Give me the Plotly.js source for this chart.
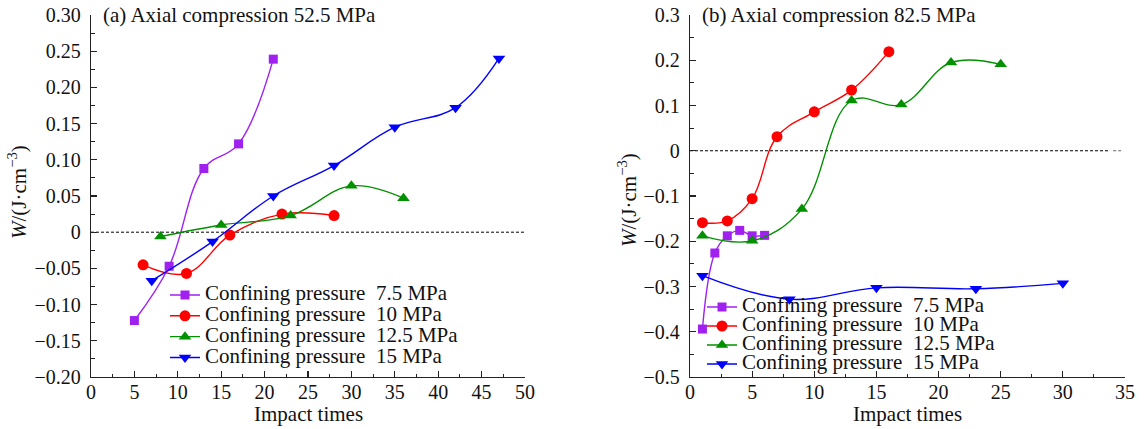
<!DOCTYPE html>
<html><head><meta charset="utf-8">
<script src="https://cdn.plot.ly/plotly-3.0.1.min.js"></script>
<style>html,body{margin:0;padding:0;background:#fff}#chart{width:1147px;height:429px}</style>
</head><body><div id="chart"></div>
<script>
// ---- data ----
const seriesNames = ['Confining pressure \u00a07.5 MPa', 'Confining pressure \u00a010 MPa', 'Confining pressure \u00a012.5 MPa', 'Confining pressure \u00a015 MPa'];
const panelTitles = ['(a) Axial compression 52.5 MPa', '(b) Axial compression 82.5 MPa'];
const xTitle = 'Impact times';
const yTitle = '<i>W</i>/(J·cm<sup>−3</sup>)';

// panel (a)
const a_x_75 = [5, 9, 13, 17, 21];
const a_y_75 = [-0.122, -0.047, 0.088, 0.122, 0.239];
const a_x_10 = [6, 11, 16, 22, 28];
const a_y_10 = [-0.045, -0.057, -0.004, 0.025, 0.023];
const a_x_125 = [8, 15, 23, 30, 36];
const a_y_125 = [-0.006, 0.010, 0.023, 0.064, 0.047];
const a_x_15 = [7, 14, 21, 28, 35, 42, 47];
const a_y_15 = [-0.067, -0.013, 0.050, 0.092, 0.145, 0.172, 0.240];

// panel (b)
const b_x_75 = [1, 2, 3, 4, 5, 6];
const b_y_75 = [-0.394, -0.226, -0.188, -0.176, -0.188, -0.187];
const b_x_10 = [1, 3, 5, 7, 10, 13, 16];
const b_y_10 = [-0.159, -0.155, -0.106, 0.031, 0.086, 0.134, 0.219];
const b_x_125 = [1, 5, 9, 13, 17, 21, 25];
const b_y_125 = [-0.188, -0.199, -0.129, 0.111, 0.102, 0.195, 0.191];
const b_x_15 = [1, 8, 15, 23, 30];
const b_y_15 = [-0.276, -0.328, -0.303, -0.305, -0.293];

// tick labels
const a_xticks = [0, 5, 10, 15, 20, 25, 30, 35, 40, 45, 50];
const a_yticks = [-0.20, -0.15, -0.10, -0.05, 0, 0.05, 0.10, 0.15, 0.20, 0.25, 0.30];
const a_ytext = ['−0.20', '−0.15', '−0.10', '−0.05', '0', '0.05', '0.10', '0.15', '0.20', '0.25', '0.30'];
const b_xticks = [0, 5, 10, 15, 20, 25, 30, 35];
const b_yticks = [-0.5, -0.4, -0.3, -0.2, -0.1, 0, 0.1, 0.2, 0.3];
const b_ytext = ['−0.5', '−0.4', '−0.3', '−0.2', '−0.1', '0', '0.1', '0.2', '0.3'];

// reference (zero) lines
const a_zero_x = [0, 50];
const b_zero_x = [0, 33.8];
const b_zero_x_tail = [34.05, 34.85];
const zero_y = [0, 0];

// ---- styling ----
const FONT = 'Liberation Serif';
const colors = ['#A020F0', '#FF0000', '#009000', '#0000FF'];
const symbols = ['square', 'circle', 'triangle-up', 'triangle-down'];
const msizes = [9, 11, 11, 11];

function series(xs, ys, i, xa, ya, leg) {
  return {
    x: xs, y: ys, xaxis: xa, yaxis: ya, legend: leg,
    type: 'scatter', mode: 'lines+markers',
    name: '<span style="font-size:21px;font-family:Liberation Serif">' + seriesNames[i] + '</span>',
    line: {color: colors[i], width: 1.4, shape: 'spline', smoothing: 1.1},
    marker: {color: colors[i], symbol: symbols[i], size: msizes[i]},
    cliponaxis: false
  };
}
function zline(xs, xa, ya, col) {
  return {x: xs, y: zero_y, xaxis: xa, yaxis: ya, type: 'scatter', mode: 'lines',
    line: {color: col || '#000', width: 1, dash: '3px,2px'}, showlegend: false, hoverinfo: 'skip', cliponaxis: false};
}

const traces = [
  zline(a_zero_x, 'x', 'y'),
  zline(b_zero_x, 'x2', 'y2'),
  zline(b_zero_x_tail, 'x2', 'y2', '#666'),
  series(a_x_75, a_y_75, 0, 'x', 'y', 'legend'),
  series(a_x_10, a_y_10, 1, 'x', 'y', 'legend'),
  series(a_x_125, a_y_125, 2, 'x', 'y', 'legend'),
  series(a_x_15, a_y_15, 3, 'x', 'y', 'legend'),
  series(b_x_75, b_y_75, 0, 'x2', 'y2', 'legend2'),
  series(b_x_10, b_y_10, 1, 'x2', 'y2', 'legend2'),
  series(b_x_125, b_y_125, 2, 'x2', 'y2', 'legend2'),
  series(b_x_15, b_y_15, 3, 'x2', 'y2', 'legend2')
];

const W = 1147, H = 429, T = 15, B = 52, PH = H - T - B;
function ax(extra) {
  return Object.assign({
    showline: true, linecolor: '#222', linewidth: 1.3, mirror: false,
    showgrid: false, zeroline: false,
    ticks: 'inside', ticklen: 6, tickwidth: 1.2, tickcolor: '#222',
    tickfont: {family: FONT, size: 20, color: '#111'},
    fixedrange: true
  }, extra);
}
function minor(dt) { return {dtick: dt, ticks: 'inside', ticklen: 3.5, tickwidth: 1.1, tickcolor: '#222'}; }

const layout = {
  width: W, height: H,
  margin: {l: 0, r: 0, t: T, b: B, pad: 0},
  paper_bgcolor: '#fff', plot_bgcolor: '#fff',
  font: {family: FONT, color: '#111', size: 20},
  showlegend: true,
  xaxis: ax({domain: [91 / W, 525 / W], range: [0, 50], anchor: 'y',
    tickmode: 'array', tickvals: a_xticks, ticklabelstandoff: -3, minor: minor(2.5)}),
  yaxis: ax({domain: [0, 1], range: [-0.2, 0.3], anchor: 'x',
    tickmode: 'array', tickvals: a_yticks, ticktext: a_ytext, ticklabelstandoff: 5, minor: minor(0.025)}),
  xaxis2: ax({domain: [690 / W, 1125 / W], range: [0, 35], anchor: 'y2',
    tickmode: 'array', tickvals: b_xticks, ticklabelstandoff: -3, minor: minor(2.5)}),
  yaxis2: ax({domain: [0, 1], range: [-0.5, 0.3], anchor: 'x2',
    tickmode: 'array', tickvals: b_yticks, ticktext: b_ytext, ticklabelstandoff: 5, minor: minor(0.05)}),
  legend: {x: 165 / W, y: (H - B - 279.6) / PH, xanchor: 'left', yanchor: 'top',
    xref: 'paper', yref: 'paper', bgcolor: 'rgba(0,0,0,0)', borderwidth: 0,
    font: {family: FONT, size: 13.7, color: '#111'}, tracegroupgap: 0, itemwidth: 30},
  legend2: {x: 702 / W, y: (H - B - 292.5) / PH, xanchor: 'left', yanchor: 'top',
    xref: 'paper', yref: 'paper', bgcolor: 'rgba(0,0,0,0)', borderwidth: 0,
    font: {family: FONT, size: 11.9, color: '#111'}, tracegroupgap: 0, itemwidth: 30},
  annotations: [
    {text: panelTitles[0], xref: 'paper', yref: 'paper', x: 101 / W, y: (H - B - 15) / PH,
      xanchor: 'left', yanchor: 'middle', showarrow: false, font: {family: FONT, size: 21, color: '#111'}},
    {text: panelTitles[1], xref: 'paper', yref: 'paper', x: 700 / W, y: (H - B - 15) / PH,
      xanchor: 'left', yanchor: 'middle', showarrow: false, font: {family: FONT, size: 21, color: '#111'}},
    {text: xTitle, xref: 'paper', yref: 'paper', x: 308 / W, y: (H - B - 414) / PH,
      xanchor: 'center', yanchor: 'middle', showarrow: false, font: {family: FONT, size: 21, color: '#111'}},
    {text: xTitle, xref: 'paper', yref: 'paper', x: 907 / W, y: (H - B - 414) / PH,
      xanchor: 'center', yanchor: 'middle', showarrow: false, font: {family: FONT, size: 21, color: '#111'}},
    {text: yTitle, xref: 'paper', yref: 'paper', x: 17 / W, y: (H - B - 192) / PH, textangle: -90,
      xanchor: 'center', yanchor: 'middle', showarrow: false, font: {family: FONT, size: 21, color: '#111'}},
    {text: yTitle, xref: 'paper', yref: 'paper', x: 627 / W, y: (H - B - 200) / PH, textangle: -90,
      xanchor: 'center', yanchor: 'middle', showarrow: false, font: {family: FONT, size: 21, color: '#111'}}
  ]
};

Plotly.newPlot('chart', traces, layout, {displayModeBar: false, staticPlot: true});
</script>
</body></html>
